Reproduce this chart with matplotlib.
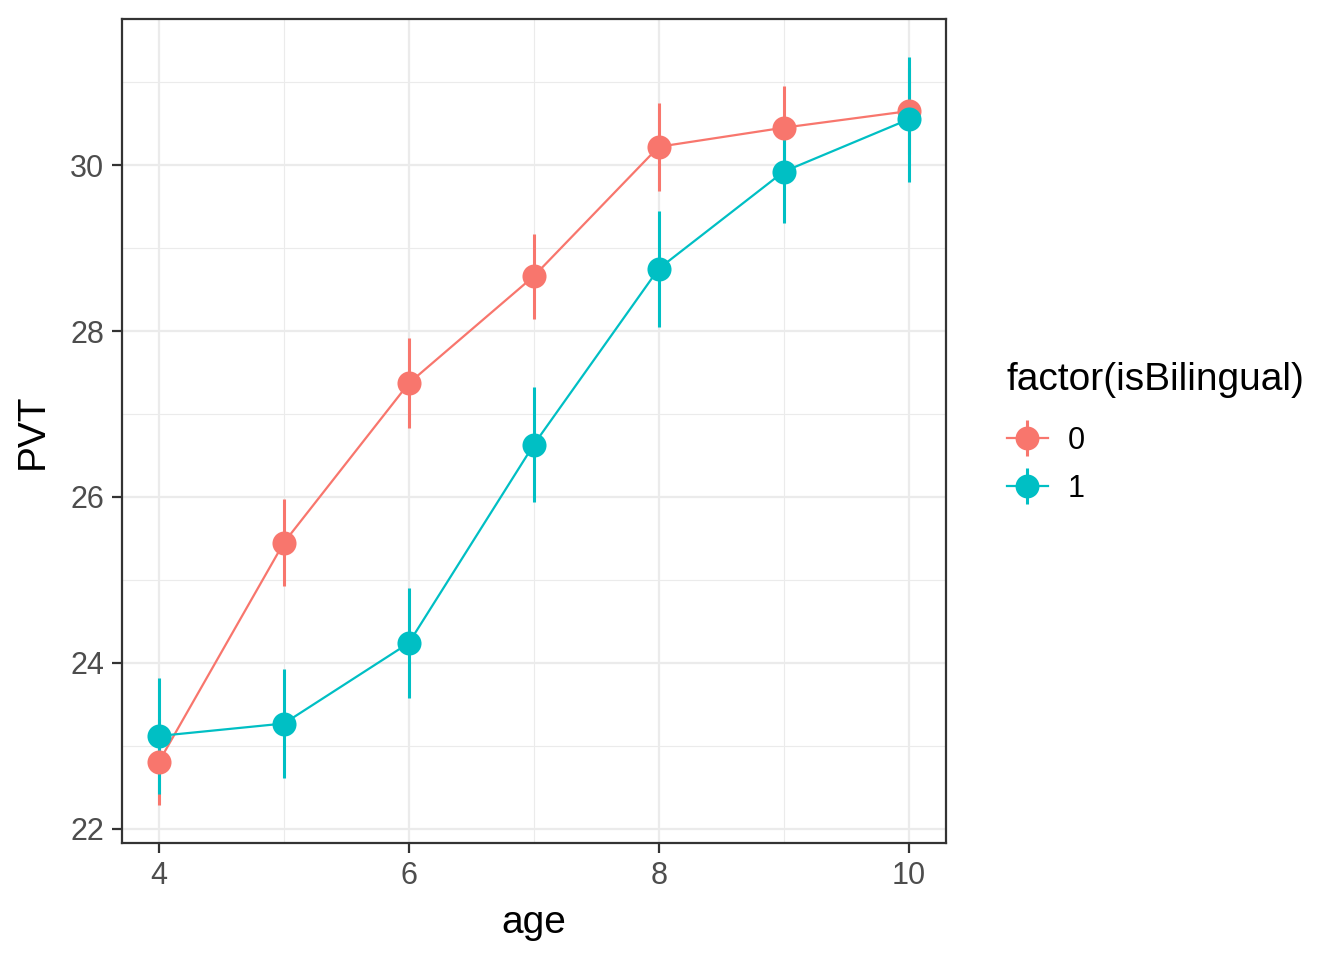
import numpy as np
import matplotlib.pyplot as plt
from matplotlib.lines import Line2D
from matplotlib.legend_handler import HandlerTuple

plt.rcParams['font.family'] = ['Liberation Sans', 'DejaVu Sans']

ages = [4, 5, 6, 7, 8, 9, 10]
pvt_mono = [22.81, 25.45, 27.37, 28.66, 30.22, 30.45, 30.65]
err_mono = [0.52, 0.52, 0.54, 0.51, 0.53, 0.50, 0.52]
pvt_bi = [23.12, 23.27, 24.24, 26.63, 28.75, 29.92, 30.55]
err_bi = [0.70, 0.66, 0.66, 0.69, 0.70, 0.62, 0.75]
groups = ['0', '1']
colors = ['#F8766D', '#00BFC4']

fig = plt.figure(figsize=(6.72, 4.8), dpi=200)
ax = fig.add_axes([122 / 1344, 1 - 843 / 960, 824 / 1344, 824 / 960])

for y, e, c in [(pvt_mono, err_mono, colors[0]), (pvt_bi, err_bi, colors[1])]:
    ax.plot(ages, y, color=c, lw=0.8, zorder=3)
    ax.vlines(ages, np.array(y) - np.array(e), np.array(y) + np.array(e),
              color=c, lw=1.1, zorder=3)
    ax.scatter(ages, y, s=75, color=c, zorder=4, linewidths=0)

ax.set_xlim(3.704, 10.30)
ax.set_ylim(21.83, 31.76)
ax.set_xticks([4, 6, 8, 10])
ax.set_yticks([22, 24, 26, 28, 30])
ax.set_xticks([5, 7, 9], minor=True)
ax.set_yticks([23, 25, 27, 29, 31], minor=True)
ax.grid(True, which='major', color='#EBEBEB', lw=0.8)
ax.grid(True, which='minor', color='#EBEBEB', lw=0.4)
ax.set_axisbelow(True)
for s in ax.spines.values():
    s.set_color('#333333')
    s.set_linewidth(0.8)
ax.tick_params(which='major', length=3.5, width=0.8, color='#333333',
               labelsize=11, labelcolor='#4D4D4D', pad=3)
ax.tick_params(which='minor', length=0)
ax.set_xlabel('age', fontsize=14, labelpad=5)
ax.set_ylabel('PVT', fontsize=14, labelpad=7)

handles = []
for c in colors:
    h_line = Line2D([0], [0], color=c, lw=0.8)
    v_line = Line2D([0], [0], color=c, lw=0, marker='|', markersize=13.3,
                    markeredgewidth=1.1)
    dot = Line2D([0], [0], color=c, lw=0, marker='o', markersize=8.6,
                 markeredgewidth=0)
    handles.append((h_line, v_line, dot))
leg = fig.legend(handles, groups, title='factor(isBilingual)',
                 loc='upper left', bbox_to_anchor=(979 / 1344, 1 - 335 / 960),
                 frameon=False, fontsize=11, title_fontsize=14,
                 handlelength=1.35, handletextpad=0.64, labelspacing=0.6,
                 handler_map={tuple: HandlerTuple(ndivide=1)})
leg._legend_box.align = 'left'
leg._legend_box.sep = 9.8

fig.savefig('out.png', dpi=200)
